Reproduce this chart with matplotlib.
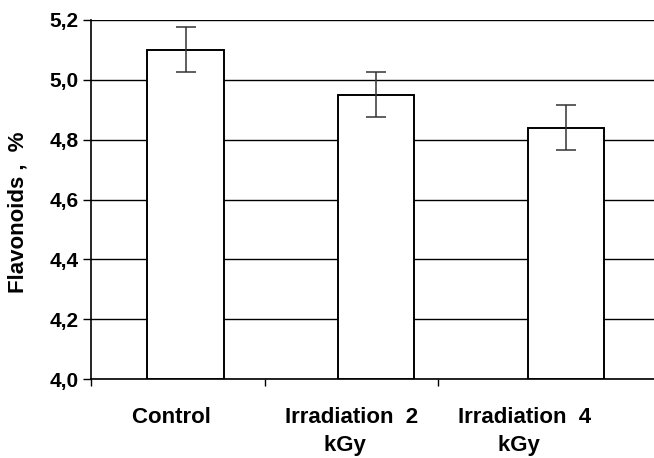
import numpy as np
import matplotlib
matplotlib.use("Agg")
import matplotlib.pyplot as plt
from matplotlib.ticker import FixedLocator, FuncFormatter

# dati
categorie = ["Control  ", "Irradiation  2\nkGy  ", "Irradiation  4\nkGy  "]
flavonoidi = [5.10, 4.95, 4.84]
errori = [0.075, 0.075, 0.075]

plt.rcParams['font.family'] = ['Liberation Sans', 'DejaVu Sans']
plt.rcParams['font.weight'] = 'bold'

W, H = 654, 458
fig = plt.figure(figsize=(W / 100, H / 100), dpi=100)
# assi posizionati in pixel: sinistra 91, alto 20, basso 379
ax = fig.add_axes([91 / W, (H - 379) / H, 1 - 91 / W, (379 - 20) / H])

# una categoria = 173.5 px, le barre sono leggermente spostate a destra
pos_barre = np.array([0.545, 1.643, 2.738])
ax.bar(pos_barre, np.array(flavonoidi) - 4.0, bottom=4.0, width=0.44,
       color="white", edgecolor="black", linewidth=1.4, zorder=3)
ax.errorbar(pos_barre, flavonoidi, yerr=errori, fmt="none",
            ecolor="#333333", elinewidth=1.1, capsize=7, capthick=1.1, zorder=4)

ax.set_ylim(4.0, 5.2)
ax.set_xlim(0, (W - 91) / 173.5)
ax.set_yticks(np.arange(4.0, 5.21, 0.2))
ax.yaxis.set_major_formatter(FuncFormatter(lambda v, p: f"{v:.1f}".replace(".", ",")))
ax.tick_params(axis="y", direction="out", length=6, width=1, labelsize=15, pad=3)
ax.yaxis.grid(True, color="black", linewidth=1, zorder=0)

# tacche fra le categorie, etichette al centro
ax.xaxis.set_major_locator(FixedLocator([0.5, 1.5, 2.5]))
ax.set_xticklabels(categorie, fontsize=16, fontweight="bold", linespacing=1.45)
ax.xaxis.set_minor_locator(FixedLocator([0, 1, 2]))
ax.tick_params(axis="x", which="major", length=0, pad=20)
ax.tick_params(axis="x", which="minor", direction="out", length=5, width=1)

for s in ["top", "right"]:
    ax.spines[s].set_visible(False)
ax.spines["left"].set_linewidth(1.2)
ax.spines["bottom"].set_linewidth(1.2)

ax.set_ylabel("Flavonoids ,  %", fontsize=16, fontweight="bold")
ax.yaxis.set_label_coords(-62 / 563, 0.465)

fig.savefig("out.png", dpi=100)
